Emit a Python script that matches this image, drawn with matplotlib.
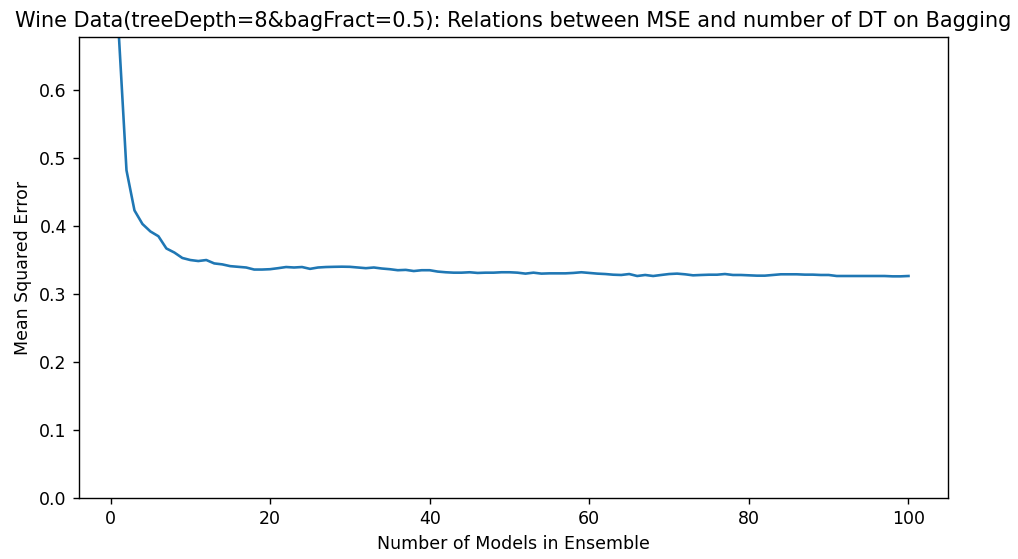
import matplotlib
matplotlib.use('Agg')
import matplotlib.pyplot as plt
import numpy as np

# number of decision trees in the ensemble
n_models = list(range(1, 101))

# mean squared error
mse = [0.690, 0.482, 0.423, 0.403, 0.392, 0.385, 0.367, 0.361, 0.353, 0.350,
       0.3485, 0.350, 0.345, 0.3436, 0.341, 0.340, 0.339, 0.336, 0.336, 0.3365,
       0.338, 0.3397, 0.339, 0.3397, 0.337, 0.339, 0.3397, 0.340, 0.3402, 0.340,
       0.339, 0.338, 0.339, 0.3375, 0.3365, 0.335, 0.3355, 0.3338, 0.335, 0.335,
       0.333, 0.332, 0.3314, 0.3314, 0.332, 0.331, 0.3314, 0.3314, 0.332, 0.332,
       0.3314, 0.330, 0.3314, 0.330, 0.3304, 0.3304, 0.3304, 0.331, 0.332, 0.331,
       0.330, 0.3294, 0.3284, 0.328, 0.3294, 0.3265, 0.328, 0.3265, 0.328, 0.3294,
       0.330, 0.329, 0.3275, 0.328, 0.3284, 0.3284, 0.3294, 0.328, 0.328, 0.3275,
       0.327, 0.327, 0.328, 0.329, 0.329, 0.329, 0.3285, 0.3285, 0.328, 0.328,
       0.3265, 0.3265, 0.3265, 0.3265, 0.3265, 0.3265, 0.3265, 0.326, 0.326, 0.3265]

title = 'Wine Data(treeDepth=8&bagFract=0.5): Relations between MSE and number of DT on Bagging'

dpi = 125
fig = plt.figure(figsize=(1019 / dpi, 559 / dpi), dpi=dpi)
ax = fig.add_axes([79 / 1019, 1 - 498 / 559, (948 - 79) / 1019, (498 - 37) / 559])

ax.plot(n_models, mse)
ax.set_ylim(0, 0.678)
ax.set_xlabel('Number of Models in Ensemble')
ax.set_ylabel('Mean Squared Error')
ax.set_title(title)

fig.savefig('out.png', dpi=dpi)
